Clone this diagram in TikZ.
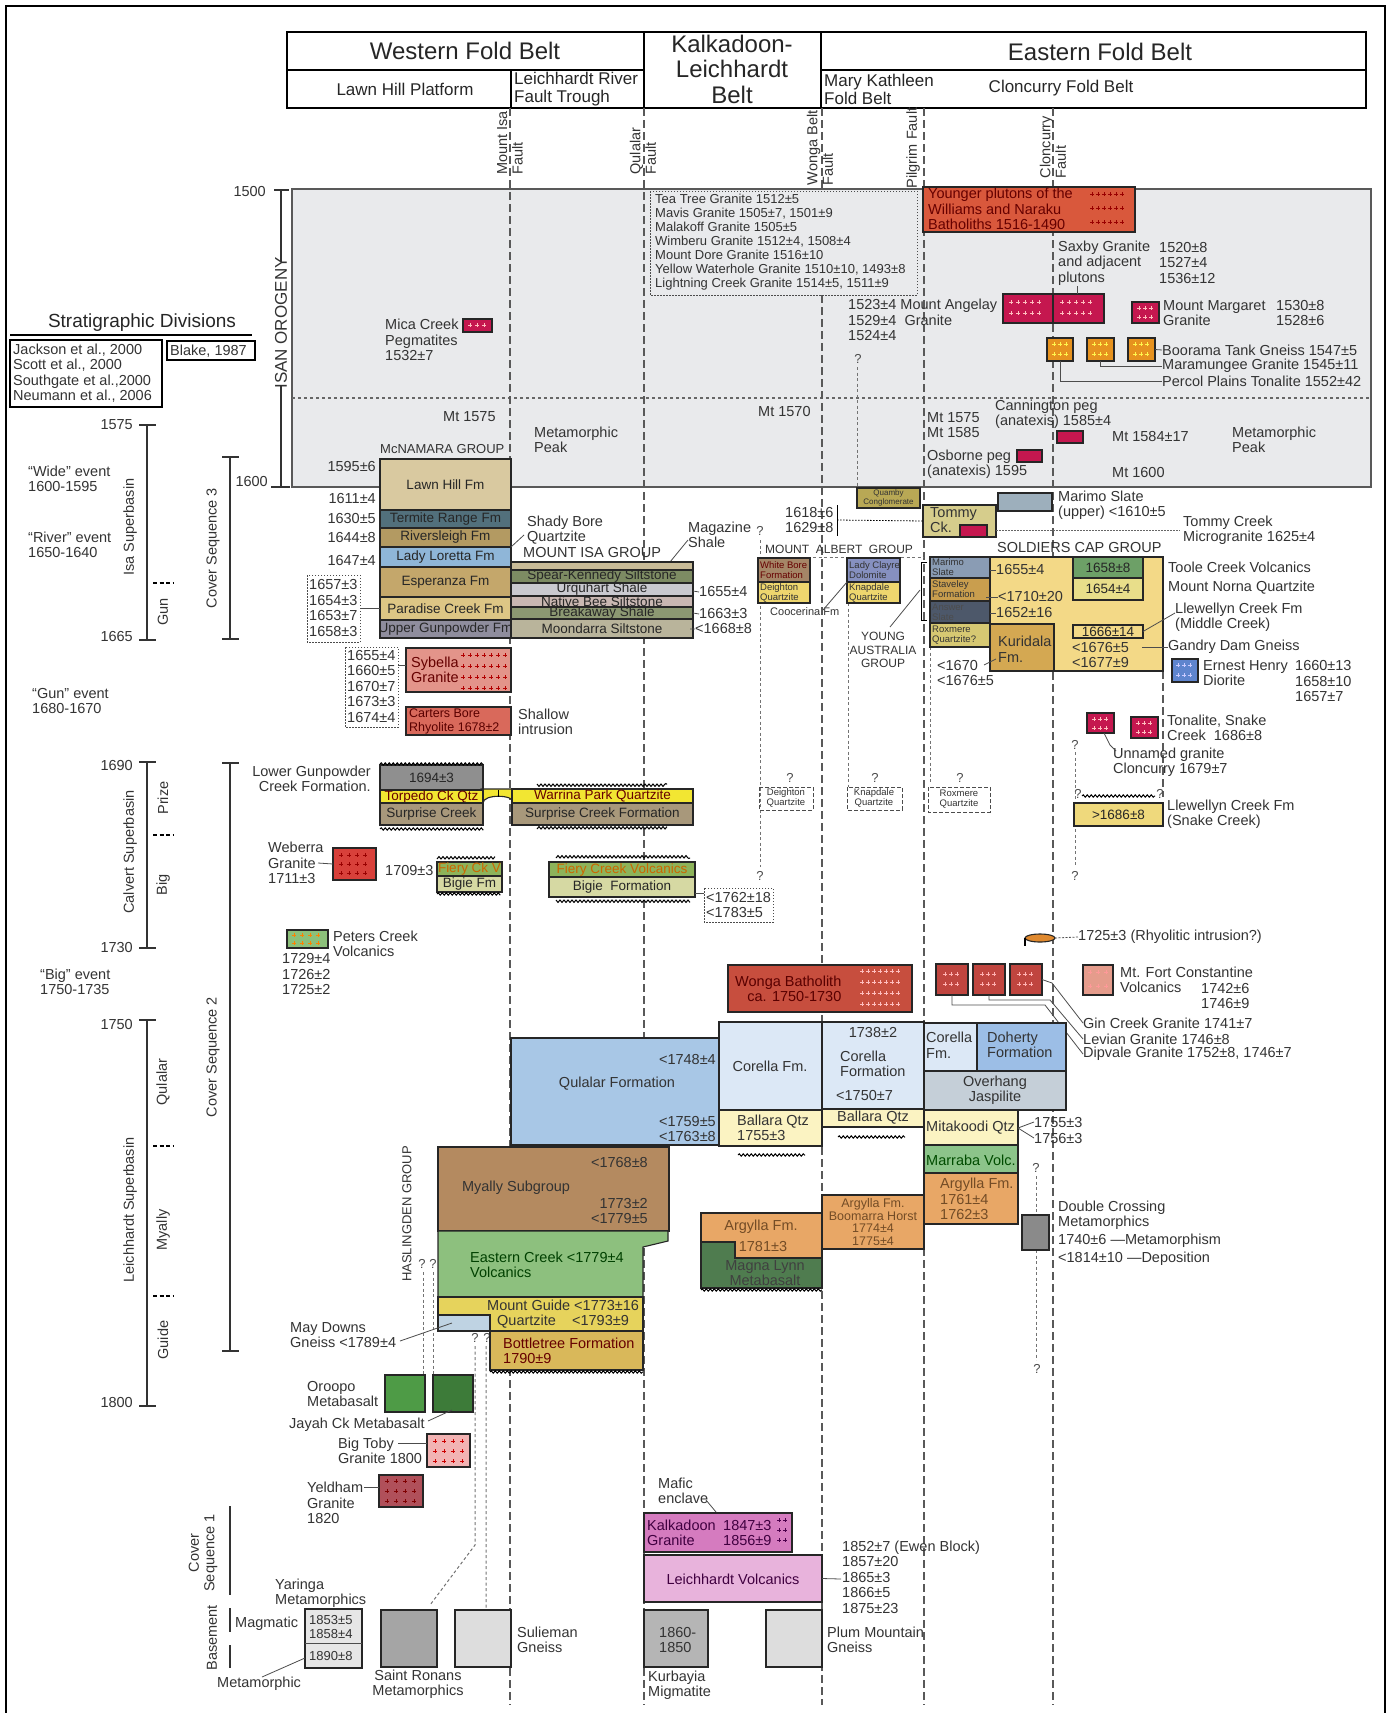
\documentclass[tikz,border=0pt]{standalone}
\usepackage{fontspec}
\setmainfont{Liberation Sans}
\usetikzlibrary{decorations.pathmorphing}

% colours of the units
\definecolor{isanbg}{HTML}{E9EAEC}
\definecolor{lawnhill}{HTML}{D9C9A0}
\definecolor{termite}{HTML}{52707C}
\definecolor{riversl}{HTML}{B39A62}
\definecolor{ladyl}{HTML}{8FB6D8}
\definecolor{esper}{HTML}{C4A76B}
\definecolor{paradise}{HTML}{DDC685}
\definecolor{uppergun}{HTML}{8F8D9D}
\definecolor{migtop}{HTML}{C9BC98}
\definecolor{spear}{HTML}{7D8B63}
\definecolor{urq}{HTML}{C9C9CF}
\definecolor{nbee}{HTML}{C9B7B2}
\definecolor{brkw}{HTML}{8C9872}
\definecolor{moond}{HTML}{B9B49B}
\definecolor{sybella}{HTML}{E3948A}
\definecolor{carters}{HTML}{D9695B}
\definecolor{crimson}{HTML}{C5174F}
\definecolor{younger}{HTML}{D9583C}
\definecolor{orangeb}{HTML}{E6921F}
\definecolor{quamby}{HTML}{B8A855}
\definecolor{whitebore}{HTML}{A58667}
\definecolor{deighton}{HTML}{EED66E}
\definecolor{ladyclayre}{HTML}{8690C0}
\definecolor{tommy}{HTML}{D6CD8C}
\definecolor{marup}{HTML}{9DAFBC}
\definecolor{soldier}{HTML}{F3D987}
\definecolor{kuridala}{HTML}{D4A852}
\definecolor{tcvgreen}{HTML}{6DA067}
\definecolor{mnqyel}{HTML}{E8DE8A}
\definecolor{marimo}{HTML}{8A9CB4}
\definecolor{stave}{HTML}{C99E4E}
\definecolor{answer}{HTML}{4D586A}
\definecolor{roxm}{HTML}{D6C872}
\definecolor{ehdblue}{HTML}{5F85CE}
\definecolor{llyel}{HTML}{EFD97C}
\definecolor{grayb}{HTML}{8F8F8F}
\definecolor{torpedo}{HTML}{F2E632}
\definecolor{surprise}{HTML}{A8987B}
\definecolor{weberra}{HTML}{D8403A}
\definecolor{fiery}{HTML}{8DB35A}
\definecolor{bigie}{HTML}{D6D9A3}
\definecolor{peters}{HTML}{8CC07A}
\definecolor{rhyo}{HTML}{E0892E}
\definecolor{wonga}{HTML}{C74E3E}
\definecolor{ginred}{HTML}{C0453F}
\definecolor{mfc}{HTML}{E59C8C}
\definecolor{qulalar}{HTML}{A8C7E6}
\definecolor{corella}{HTML}{DCE8F6}
\definecolor{ballara}{HTML}{FBF3C2}
\definecolor{doherty}{HTML}{9CBEE6}
\definecolor{overhang}{HTML}{C5CFD8}
\definecolor{marraba}{HTML}{8CC48A}
\definecolor{argylla}{HTML}{E8A766}
\definecolor{magna}{HTML}{4F7C4F}
\definecolor{dcgray}{HTML}{8A8A8A}
\definecolor{myally}{HTML}{B48A60}
\definecolor{eastcr}{HTML}{8DC07E}
\definecolor{mtguide}{HTML}{E6D35C}
\definecolor{maydowns}{HTML}{BFD3E3}
\definecolor{bottle}{HTML}{D9B85A}
\definecolor{oroopo}{HTML}{4E9B46}
\definecolor{jayah}{HTML}{3D7B39}
\definecolor{bigtoby}{HTML}{F2B3B3}
\definecolor{yeldham}{HTML}{B0505A}
\definecolor{yaringa}{HTML}{E6E6E6}
\definecolor{sronan}{HTML}{A5A5A5}
\definecolor{sulgray}{HTML}{DDDDDD}
\definecolor{kalkadoon}{HTML}{D57BBF}
\definecolor{leichv}{HTML}{E8B3DC}
\definecolor{kurbg}{HTML}{B5B5B5}

% font sizes
\newcommand{\hdfont}{\fontsize{24}{25.5}\selectfont}
\newcommand{\subfont}{\fontsize{17}{18}\selectfont}
\newcommand{\lblfont}{\fontsize{14.5}{15.5}\selectfont}
\newcommand{\boxfont}{\fontsize{13.5}{14.5}\selectfont}
\newcommand{\smfont}{\fontsize{13}{14}\selectfont}
\newcommand{\tnfont}{\fontsize{9.5}{10}\selectfont}

\tikzset{
  unit/.style={draw=black!85, line width=1.1pt, inner sep=0pt, outer sep=0pt},
  boxt/.style={font=\boxfont, inner sep=0pt, align=center, text=black!85},
  lbl/.style={font=\lblfont, inner sep=0pt, anchor=west, align=left, text=black!80},
  tn/.style={font=\tnfont, inner sep=0pt, anchor=west, align=left, text=black!80},
  hd/.style={font=\hdfont, inner sep=0pt, text=black!85},
  sub/.style={font=\subfont, inner sep=0pt, text=black!85},
  rot/.style={font=\lblfont, inner sep=0pt, rotate=90, align=center, text=black!80},
  fault/.style={dash pattern=on 8pt off 4pt, line width=1.1pt, draw=black!65},
  qline/.style={dash pattern=on 3pt off 2.5pt, line width=1pt, draw=black!55},
  dotbox/.style={dash pattern=on 1.5pt off 1.5pt, line width=0.8pt, draw=black!70},
  dashbox/.style={dash pattern=on 4pt off 2pt, line width=1pt, draw=black!70},
  leader/.style={line width=0.8pt, draw=black!70},
  wavy/.style={decorate, decoration={snake, amplitude=1.2pt, segment length=4pt}, line width=1pt},
  qm/.style={font=\smfont, inner sep=0pt, text=black!70},
  axis/.style={line width=2.2pt, draw=black!80},
}

% [text opts]{name}{x1}{y1}{x2}{y2}{fill}{text}
\newcommand{\unitbox}[8][]{%
  \node[unit, fill=#7, minimum width={(#5-#3)*1pt}, minimum height={(#6-#4)*1pt}]
    (#2) at ({(#3+#5)/2},{(#4+#6)/2}) {};
  \node[boxt, #1] (#2-x) at (#2.center) {#8};}
% x0, y0, columns, rows, dx, dy, colour
\newcommand{\plusgrid}[7]{%
  \foreach \ci in {1,...,#3}{\foreach \cj in {1,...,#4}{%
    \draw[#7, line width=0.7pt] ({#1+(\ci-1)*#5-1.8},{#2+(\cj-1)*#6}) -- ++(3.6,0)
      ({#1+(\ci-1)*#5},{#2+(\cj-1)*#6-1.8}) -- ++(0,3.6);}}}

\begin{document}
\begin{tikzpicture}[x=1pt, y=-1pt]
\useasboundingbox (0,0) rectangle (1391,1713);
\draw[line width=2pt] (6,1713) -- (6,6) -- (1385,6) -- (1385,1713);

% Header
\draw[line width=1.4pt] (287,32) rectangle (1366,108);
\draw[line width=1.2pt] (287,70) -- (644,70) (821,70) -- (1366,70)
  (644,32) -- (644,108) (821,32) -- (821,108) (511,70) -- (511,108);
\node[hd] (wfb) at (465,51) {Western Fold Belt};
\node[hd, align=center] (klb) at (732,69) {Kalkadoon-\\Leichhardt\\Belt};
\node[hd] (efb) at (1100,52) {Eastern Fold Belt};
\node[sub] (lhp) at (405,89) {Lawn Hill Platform};
\node[sub, anchor=west, align=left] (lrft) at (514,89) {Leichhardt River\\Fault Trough};
\node[sub, anchor=west, align=left] (mkfb) at (824,89) {Mary Kathleen\\Fold Belt};
\node[sub] (cfb) at (1061,88) {Cloncurry Fold Belt};

% Stratigraphic divisions
\node[font=\fontsize{19}{20}\selectfont, inner sep=0pt, text=black!85] (strat) at (142,323) {Stratigraphic Divisions};
\draw[line width=1.5pt] (10,335) -- (252,335);
\draw[line width=1.3pt] (10,340) rectangle (162,407);
\node[lbl] (refs) at (13,373) {Jackson et al., 2000\\Scott et al., 2000\\Southgate et al.,2000\\Neumann et al., 2006};
\draw[line width=1.3pt] (167,341) rectangle (255,360);
\node[lbl] (blake) at (170,351) {Blake, 1987};

% Time axes
\draw[axis] (147,425) -- (147,640) (139,425) -- (156,425) (139,640) -- (156,640);
\draw[axis] (147,762) -- (147,948) (139,762) -- (156,762) (139,948) -- (156,948);
\draw[axis] (147,1020) -- (147,1406) (139,1020) -- (156,1020) (139,1406) -- (156,1406);
\foreach \dy in {583,835,1146,1296}
  \draw[line width=1.5pt, dash pattern=on 4pt off 2.5pt] (153,\dy) -- (173,\dy);
\draw[axis] (230,457) -- (230,639) (222,457) -- (239,457) (222,639) -- (239,639);
\draw[axis] (230,763) -- (230,1351) (222,763) -- (239,763) (222,1351) -- (239,1351);
\draw[axis] (230,1506) -- (230,1595);
\draw[axis] (230,1608) -- (230,1632) (230,1645) -- (230,1668);
\draw[axis] (281,190) -- (281,262) (281,385) -- (281,487) (274,190) -- (289,190) (271,487) -- (290,487);
\node[lbl, anchor=east] (y1500) at (266,192) {1500};
\node[lbl, anchor=east] (y1600) at (268,482) {1600};
\node[lbl, anchor=east] (y1575) at (133,425) {1575};
\node[lbl, anchor=east] (y1665) at (133,637) {1665};
\node[lbl, anchor=east] (y1690) at (133,765) {1690};
\node[lbl, anchor=east] (y1730) at (133,947) {1730};
\node[lbl, anchor=east] (y1750) at (133,1024) {1750};
\node[lbl, anchor=east] (y1800) at (133,1402) {1800};
\node[rot, font=\subfont] (axisan) at (281,323) {ISAN OROGENY};
\node[rot] (axisa) at (130,527) {Isa Superbasin};
\node[rot] (axgun) at (163,612) {Gun};
\node[rot] (axcs3) at (213,548) {Cover Sequence 3};
\node[rot] (axcal) at (130,852) {Calvert Superbasin};
\node[rot] (axprize) at (163,798) {Prize};
\node[rot] (axbig) at (163,885) {Big};
\node[rot] (axcs2) at (213,1057) {Cover Sequence 2};
\node[rot] (axlei) at (130,1210) {Leichhardt Superbasin};
\node[rot] (axqul) at (163,1082) {Qulalar};
\node[rot] (axmya) at (163,1230) {Myally};
\node[rot] (axgui) at (163,1340) {Guide};
\node[rot] (axcs1) at (203,1553) {Cover\\Sequence 1};
\node[rot] (axbase) at (212,1638) {Basement};
\node[lbl] (evwide) at (28,479) {``Wide'' event\\1600-1595};
\node[lbl] (evriver) at (28,545) {``River'' event\\1650-1640};
\node[lbl] (evgun) at (32,701) {``Gun'' event\\1680-1670};
\node[lbl] (evbig) at (40,982) {``Big'' event\\1750-1735};

% Isan orogeny field
\draw[fill=isanbg, draw=black!65, line width=1.2pt] (292,189) rectangle (1371,487);
\draw[dash pattern=on 3pt off 3pt, line width=1.2pt, black!60] (292,398) -- (1371,398);

% Faults
\foreach \fx in {510,644,924,1053} \draw[fault] (\fx,108) -- (\fx,1705);
\draw[fault] (822,108) -- (822,191) (822,295) -- (822,1705);
\draw[fault] (1163,671) -- (1163,797);
\node[rot, align=left] (fmi) at (510,143) {Mount Isa\\Fault};
\node[rot, align=left] (fqu) at (643,151) {Qulalar\\Fault};
\node[rot, align=left] (fwo) at (820,148) {Wonga Belt\\Fault};
\node[rot] (fpi) at (913,148) {Pilgrim Fault};
\node[rot, align=left] (fcl) at (1053,147) {Cloncurry\\Fault};

% Uncertain extents
\node[qm] (q1) at (858,359) {?};
\draw[qline] (857,367) -- (857,488);
\node[qm] (q2) at (760,531) {?};
\draw[qline] (760,540) -- (760,867);
\node[qm] (q3) at (760,876) {?};
\draw[qline] (848,603) -- (848,787) (930,647) -- (930,783);
\node[qm] (q4) at (1075,745) {?};
\draw[qline] (1075,752) -- (1075,867);
\node[qm] (q5) at (1075,876) {?};
\node[qm] (q6) at (1036,1168) {?};
\draw[qline] (1036,1176) -- (1036,1215) (1036,1250) -- (1036,1360);
\node[qm] (q7) at (1037,1369) {?};
\node[qm] (q8) at (422,1264) {?};
\node[qm] (q9) at (433,1264) {?};
\draw[qline] (423,1272) -- (423,1375) (433,1272) -- (433,1375);
\node[qm] (q10) at (475,1338) {?};
\node[qm] (q11) at (487,1338) {?};
\draw[qline] (475,1346) -- (475,1545) -- (430,1605) (486,1346) -- (486,1610);

% Isan intrusions
\node[lbl] (mica) at (385,340) {Mica Creek\\Pegmatites\\1532±7};
\unitbox{micab}{463}{319}{492}{332}{crimson}{}
\plusgrid{470}{325}{3}{1}{7}{7}{pink}
\draw[dotbox] (650,191) rectangle (917,295);
\node[lbl, font=\smfont] (granlist) at (655,242) {Tea Tree Granite 1512±5\\Mavis Granite 1505±7, 1501±9\\Malakoff Granite 1505±5\\Wimberu Granite 1512±4, 1508±4\\Mount Dore Granite 1516±10\\Yellow Waterhole Granite 1510±10, 1493±8\\Lightning Creek Granite 1514±5, 1511±9};
\unitbox{young}{923}{187}{1135}{232}{younger}{}
\node[lbl, text=red!40!black] (youngt) at (928,209) {Younger plutons of the\\Williams and Naraku\\Batholiths 1516-1490};
\plusgrid{1092}{194}{6}{3}{6}{14}{red!60!black}
\node[lbl] (saxby) at (1058,263) {Saxby Granite\\and adjacent\\plutons};
\node[lbl] (saxbyage) at (1159,263) {1520±8\\1527±4\\1536±12};
\node[lbl] (angel) at (848,320) {1523±4 Mount Angelay\\1529±4\ \ Granite\\1524±4};
\unitbox{angb1}{1003}{294}{1053}{323}{crimson}{}
\unitbox{angb2}{1053}{294}{1104}{323}{crimson}{}
\plusgrid{1011}{302}{5}{2}{7}{11}{pink}
\plusgrid{1062}{302}{5}{2}{7}{11}{pink}
\draw[leader] (1077,286) -- (1077,0 |- angb2.north);
\unitbox{margb}{1132}{302}{1159}{323}{crimson}{}
\plusgrid{1139}{308}{3}{2}{6}{9}{pink}
\node[lbl] (marg) at (1163,313) {Mount Margaret\\Granite};
\node[lbl] (margage) at (1276,313) {1530±8\\1528±6};
\unitbox{bt1}{1047}{338}{1073}{361}{orangeb}{}
\unitbox{bt2}{1087}{338}{1114}{361}{orangeb}{}
\unitbox{bt3}{1128}{338}{1155}{361}{orangeb}{}
\plusgrid{1054}{344}{3}{2}{6}{10}{yellow!70!white}
\plusgrid{1094}{344}{3}{2}{6}{10}{yellow!70!white}
\plusgrid{1135}{344}{3}{2}{6}{10}{yellow!70!white}
\node[lbl] (boor) at (1162,350) {Boorama Tank Gneiss 1547±5};
\node[lbl] (mara) at (1162,366) {Maramungee Granite 1545±11};
\node[lbl] (perc) at (1162,381) {Percol Plains Tonalite 1552±42};
\draw[leader] (bt3.east) -- (boor.west);
\draw[leader] (bt2.south) |- (mara.west);
\draw[leader] (bt1.south) |- (perc.west);

% Metamorphic peak
\node[lbl] (mt1575w) at (443,417) {Mt 1575};
\node[lbl] (metpkw) at (534,440) {Metamorphic\\Peak};
\node[lbl] (mt1570) at (758,412) {Mt 1570};
\node[lbl, font=\smfont] (mcnam) at (380,449) {McNAMARA GROUP};
\node[lbl] (mteast) at (927,425) {Mt 1575\\Mt 1585};
\node[lbl] (osb) at (927,464) {Osborne peg\\(anatexis) 1595};
\unitbox{osbb}{1017}{450}{1042}{462}{crimson}{}
\node[lbl] (cann) at (995,414) {Cannington peg\\(anatexis) 1585±4};
\unitbox{cannb}{1057}{431}{1083}{443}{crimson}{}
\node[lbl] (mt1584) at (1112,437) {Mt 1584±17};
\node[lbl] (metpke) at (1232,440) {Metamorphic\\Peak};
\node[lbl] (mt1600) at (1112,473) {Mt 1600};

% Lawn Hill Platform column
\unitbox{lawn}{380}{459}{511}{510}{lawnhill}{Lawn Hill Fm}
\unitbox{term}{380}{510}{511}{528}{termite}{Termite Range Fm}
\unitbox{rivs}{380}{528}{511}{547}{riversl}{Riversleigh Fm}
\unitbox{lady}{380}{547}{511}{567}{ladyl}{Lady Loretta Fm}
\unitbox{espe}{380}{567}{511}{597}{esper}{Esperanza Fm}
\unitbox{para}{380}{597}{511}{620}{paradise}{Paradise Creek Fm}
\unitbox{upgp}{380}{620}{511}{638}{uppergun}{Upper Gunpowder Fm}
\node[lbl, anchor=east] (a1595) at (376,467) {1595±6};
\node[lbl, anchor=east] (a1611) at (376,499) {1611±4};
\node[lbl, anchor=east] (a1630) at (376,519) {1630±5};
\node[lbl, anchor=east] (a1644) at (376,538) {1644±8};
\node[lbl, anchor=east] (a1647) at (376,561) {1647±4};
\draw[dotbox] (307,575) rectangle (360,642);
\node[lbl] (pcages) at (309,608) {1657±3\\1654±3\\1653±7\\1658±3};
\draw[leader] (360,608) -- (para.west |- 0,608);
\node[lbl] (shady) at (527,530) {Shady Bore\\Quartzite};
\draw[leader] (524,535) -- (lady.north east);
\node[lbl] (migrp) at (523,553) {MOUNT ISA GROUP};
\node[lbl] (magsh) at (688,535) {Magazine\\Shale};
\draw[leader] (688,540) -- (670,562);

% Mount Isa Group
\unitbox{migt}{511}{562}{693}{570}{migtop}{}
\unitbox{spear}{511}{570}{693}{583}{spear}{Spear-Kennedy Siltstone}
\unitbox{urq}{511}{583}{693}{596}{urq}{Urquhart Shale}
\unitbox{nbee}{511}{596}{693}{607}{nbee}{Native Bee Siltstone}
\unitbox{brk}{511}{607}{693}{619}{brkw}{Breakaway Shale}
\unitbox{moon}{511}{619}{693}{638}{moond}{Moondarra Siltstone}
\node[lbl] (mig1655) at (699,592) {1655±4};
\node[lbl] (mig1663) at (699,614) {1663±3};
\node[lbl] (mig1668) at (695,629) {<1668±8};
\draw[leader] (693,591) -- (mig1655.west) (693,613) -- (mig1663.west) (690,629) -- (mig1668.west);

% Sybella and Carters Bore
\unitbox{syb}{406}{648}{511}{692}{sybella}{}
\node[lbl, text=red!40!black] (sybt) at (411,670) {Sybella\\Granite};
\plusgrid{463}{655}{7}{4}{7}{11}{red!70!black}
\draw[dotbox] (345,647) rectangle (398,727);
\node[lbl] (sybages) at (347,686) {1655±4\\1660±5\\1670±7\\1673±3\\1674±4};
\draw[leader] (398,665) -- (syb.west |- 0,665);
\unitbox{cart}{406}{707}{511}{735}{carters}{}
\node[lbl, font=\fontsize{12.5}{14}\selectfont, text=red!35!black] (cartt) at (409,721) {Carters Bore\\Rhyolite 1678±2};
\node[lbl] (shallow) at (518,722) {Shallow\\intrusion};

% Mary Kathleen belt
\node[lbl] (tc1618) at (785,520) {1618±6\\1629±8};
\draw[line width=1pt] (837,505) -- (837,536);
\unitbox{quamby}{857}{488}{920}{508}{quamby}{}
\node[tn, anchor=center, align=center, font=\fontsize{8}{8.5}\selectfont] (quambyt) at (quamby.center) {Quamby\\Conglomerate};
\node[lbl, font=\fontsize{12}{13}\selectfont] (magrp) at (765,549) {MOUNT\ \ ALBERT\ \ GROUP};
\draw[qline] (758,557) -- (924,557);
\unitbox{wbore}{758}{558}{810}{582}{whitebore}{}
\node[tn, text=red!40!black] (wboret) at (760,570) {White Bore\\Formation};
\unitbox{deig}{758}{582}{810}{603}{deighton}{}
\node[tn] (deigt) at (760,593) {Deighton\\Quartzite};
\unitbox{lclay}{847}{558}{900}{582}{ladyclayre}{}
\node[tn] (lclayt) at (849,570) {Lady Clayre\\Dolomite};
\unitbox{knap}{847}{582}{900}{603}{deighton}{}
\node[tn] (knapt) at (849,593) {Knapdale\\Quartzite};
\node[lbl, font=\fontsize{11}{12}\selectfont] (cooc) at (770,612) {Coocerina Fm};
\draw[leader] (823,610) -- (knap.north west);
\node[lbl, anchor=center, align=center, font=\fontsize{12}{13.5}\selectfont] (yag) at (883,650) {YOUNG\\AUSTRALIA\\GROUP};
\draw[leader] (890,627) -- (920,590);
\draw[line width=0.8pt] (927,562) -- (921,562) -- (921,620) -- (927,620);
\draw[dashbox] (759,787) rectangle (813,810);
\node[tn, anchor=center, align=center] (deigq) at (786,798) {Deighton\\Quartzite};
\node[qm] (q12) at (790,778) {?};
\draw[dashbox] (847,787) rectangle (902,810);
\node[tn, anchor=center, align=center] (knapq) at (874,798) {Knapdale\\Quartzite};
\node[qm] (q13) at (875,778) {?};
\draw[dashbox] (928,787) rectangle (990,812);
\node[tn, anchor=center, align=center] (roxq) at (959,799) {Roxmere\\Quartzite};
\node[qm] (q14) at (960,778) {?};

% Soldiers Cap Group
\unitbox{tommy}{923}{505}{996}{537}{tommy}{}
\node[lbl] (tommyt) at (930,520) {Tommy\\Ck.};
\unitbox{tommyg}{960}{525}{987}{537}{crimson}{}
\draw[line width=0.8pt, dash pattern=on 1.5pt off 1.5pt] (837,520) -- (tommy.west);
\unitbox{marup}{998}{493}{1052}{511}{marup}{}
\node[lbl] (marupt) at (1058,505) {Marimo Slate\\(upper) <1610±5};
\draw[line width=0.8pt, dash pattern=on 1.5pt off 1.5pt, black!60] (996,530) -- (1180,530);
\node[lbl] (tcmg) at (1183,530) {Tommy Creek\\Microgranite 1625±4};
\node[lbl] (scg) at (997,548) {SOLDIERS CAP GROUP};
\unitbox{scbig}{990}{557}{1163}{671}{soldier}{}
\unitbox{marimo}{930}{557}{990}{578}{marimo}{}
\node[tn] (marimot) at (932,567) {Marimo\\Slate};
\unitbox{stave}{930}{578}{990}{601}{stave}{}
\node[tn] (stavet) at (932,589) {Staveley\\Formation};
\unitbox{answer}{930}{601}{990}{623}{answer}{}
\node[tn, text=black!70] (answert) at (932,612) {Answer\\Slate};
\unitbox{roxm}{930}{623}{990}{647}{roxm}{}
\node[tn] (roxmt) at (932,635) {Roxmere\\Quartzite?};
\node[lbl] (sc1655) at (996,570) {1655±4};
\node[lbl] (sc1710) at (998,597) {<1710±20};
\node[lbl] (sc1652) at (996,613) {1652±16};
\draw[leader] (990,570) -- (sc1655.west) (986,597) -- (sc1710.west) (990,613) -- (sc1652.west);
\unitbox{kuri}{990}{624}{1054}{671}{kuridala}{}
\node[lbl] (kurit) at (998,649) {Kuridala\\Fm.};
\node[lbl] (sc1670) at (937,673) {<1670\\<1676±5};
\draw[leader] (984,665) -- (996,659);
\unitbox{tcv}{1073}{557}{1143}{578}{tcvgreen}{1658±8}
\unitbox{mnq}{1073}{578}{1143}{600}{mnqyel}{1654±4}
\unitbox{llm}{1073}{625}{1143}{638}{soldier}{1666±14}
\node[lbl] (sc1676) at (1072,655) {<1676±5\\<1677±9};
\node[lbl] (tcvt) at (1168,567) {Toole Creek Volcanics};
\node[lbl] (mnqt) at (1168,588) {Mount Norna Quartzite};
\node[lbl] (llmt) at (1175,617) {Llewellyn Creek Fm\\(Middle Creek)};
\draw[leader] (llm.east) -- (1175,613);
\node[lbl] (gdg) at (1168,647) {Gandry Dam Gneiss};
\draw[leader] (1142,647) -- (gdg.west);
\unitbox{ehd}{1172}{659}{1198}{682}{ehdblue}{}
\plusgrid{1178}{665}{3}{2}{6}{10}{blue!20!white}
\node[lbl] (ehdt) at (1203,673) {Ernest Henry\\Diorite};
\node[lbl] (ehdage) at (1295,681) {1660±13\\1658±10\\1657±7};
\unitbox{ton1}{1087}{713}{1114}{733}{crimson}{}
\unitbox{ton2}{1131}{717}{1158}{738}{crimson}{}
\plusgrid{1094}{719}{3}{2}{6}{9}{pink}
\plusgrid{1138}{723}{3}{2}{6}{9}{pink}
\node[lbl] (tont) at (1167,728) {Tonalite, Snake\\Creek\ \ 1686±8};
\node[lbl] (unng) at (1113,762) {Unnamed granite\\Cloncurry 1679±7};
\draw[leader] (1104,733) -- (1110,745) -- (1116,751);
\draw[wavy] (1082,796) -- (1155,796);
\node[qm] (q15) at (1078,794) {?};
\node[qm] (q16) at (1160,794) {?};
\unitbox{llsc}{1074}{803}{1163}{826}{llyel}{>1686±8}
\node[lbl] (llsct) at (1167,814) {Llewellyn Creek Fm\\(Snake Creek)};

% Prize and Big sequences
\node[lbl, anchor=east, align=right] (lgcf) at (371,779) {Lower Gunpowder\\Creek Formation.};
\unitbox{lg1694}{380}{765}{483}{790}{grayb}{1694±3}
\draw[wavy] (380,764) -- (483,764);
\draw[unit, fill=torpedo] (481,789) -- (514,789) -- (514,803)
  .. controls (514,794) and (483,794) .. (483,803) -- cycle;
\unitbox[text=red!40!black]{torp}{380}{790}{483}{803}{torpedo}{Torpedo Ck Qtz}
\unitbox[text=red!40!black]{warr}{512}{789}{693}{803}{torpedo}{Warrina Park Quartzite}
\draw[line width=0.8pt] (498,790) -- (498,797);
\unitbox{surl}{380}{803}{483}{825}{surprise}{Surprise Creek}
\unitbox{surr}{512}{803}{693}{825}{surprise}{Surprise Creek Formation}
\draw[wavy] (380,829) -- (483,829) (537,829) -- (667,829) (537,784) -- (667,784);
\node[lbl] (webt) at (268,863) {Weberra\\Granite\\1711±3};
\unitbox{web}{333}{848}{376}{880}{weberra}{}
\plusgrid{341}{855}{4}{3}{8}{9}{red!60!black}
\draw[leader] (318,863) -- (web.west);
\node[lbl] (f1709) at (385,870) {1709±3};
\unitbox[text=orange!80!black]{fcl}{437}{862}{502}{876}{fiery}{Fiery Ck V}
\unitbox{bgl}{437}{876}{502}{892}{bigie}{Bigie Fm}
\unitbox[text=orange!80!black]{fcr}{549}{862}{695}{877}{fiery}{Fiery Creek Volcanics}
\unitbox{bgr}{549}{877}{695}{897}{bigie}{Bigie\ \ Formation}
\draw[wavy] (437,894) -- (500,894) (437,859) -- (495,859) (556,900) -- (690,900) (556,858) -- (690,858);
\draw[dotbox] (704,888) rectangle (773,922);
\node[lbl] (fc1762) at (706,905) {<1762±18\\<1783±5};
\draw[leader] (695,893) -- (704,893);
\unitbox{pcv}{287}{930}{328}{948}{peters}{}
\plusgrid{294}{935}{4}{2}{8}{8}{orange}
\node[lbl] (pcvt) at (333,944) {Peters Creek\\Volcanics};
\node[lbl] (pcvage) at (282,974) {1729±4\\1726±2\\1725±2};
\draw[unit, fill=rhyo] (1040,938) ellipse (15 and 4);
\draw[line width=1.1pt] (1025,938) -- (1025,946);
\node[lbl] (rhy) at (1078,937) {1725±3 (Rhyolitic intrusion?)};
\draw[leader, dash pattern=on 2pt off 1.5pt] (1055,938) -- (rhy.west);

% Wonga and Corella
\unitbox{wonga}{728}{965}{912}{1012}{wonga}{}
\node[lbl, text=red!35!black] (wongat) at (735,989) {Wonga Batholith\\\ \ \ ca. 1750-1730};
\plusgrid{862}{971}{7}{4}{6}{11}{red!25!white}
\unitbox{gcg1}{936}{964}{968}{995}{ginred}{}
\unitbox{gcg2}{973}{964}{1005}{995}{ginred}{}
\unitbox{gcg3}{1010}{964}{1042}{995}{ginred}{}
\plusgrid{945}{974}{3}{2}{6}{10}{red!30!white}
\plusgrid{982}{974}{3}{2}{6}{10}{red!30!white}
\plusgrid{1019}{974}{3}{2}{6}{10}{red!30!white}
\node[lbl] (gint) at (1083,1023) {Gin Creek Granite 1741±7};
\node[lbl] (levt) at (1083,1039) {Levian Granite 1746±8};
\node[lbl] (dipt) at (1083,1054) {Dipvale Granite 1752±8, 1746±7};
\draw[leader] (gcg3.east) -- (1052,983) -- (gint.west);
\draw[leader] (gcg2.south) |- (1050,1000) -- (levt.west);
\draw[leader] (gcg1.south) |- (1045,1005) -- (dipt.west);
\unitbox{mfcb}{1083}{965}{1113}{995}{mfc}{}
\plusgrid{1090}{972}{3}{2}{8}{14}{red!40!white}
\node[lbl] (mfct) at (1120,980) {Mt. Fort Constantine\\Volcanics};
\node[lbl] (mfcage) at (1201,996) {1742±6\\1746±9};
\unitbox{qul}{511}{1038}{719}{1145}{qulalar}{}
\node[lbl, anchor=center] (qult) at (617,1084) {Qulalar Formation};
\node[lbl, anchor=east] (q1748) at (716,1059) {<1748±4};
\node[lbl, anchor=east, align=right] (q1759) at (716,1129) {<1759±5\\<1763±8};
\unitbox{corm}{719}{1022}{822}{1110}{corella}{}
\node[lbl, anchor=center] (cormt) at (770,1066) {Corella Fm.};
\unitbox{balm}{719}{1110}{822}{1146}{ballara}{}
\node[lbl] (balmt) at (737,1128) {Ballara Qtz\\1755±3};
\draw[wavy] (738,1155) -- (805,1155);
\unitbox{corr}{822}{1022}{924}{1109}{corella}{}
\node[lbl, anchor=center] (cor1738) at (873,1032) {1738±2};
\node[lbl] (corrt) at (840,1064) {Corella\\Formation};
\node[lbl] (cor1750) at (836,1095) {<1750±7};
\unitbox{balr}{822}{1109}{924}{1127}{ballara}{}
\node[lbl, anchor=center] (balrt) at (873,1118) {Ballara Qtz};
\draw[wavy] (838,1137) -- (905,1137);
\unitbox{corf}{924}{1023}{977}{1071}{corella}{}
\node[lbl] (corft) at (926,1045) {Corella\\Fm.};
\unitbox{doh}{977}{1023}{1066}{1071}{doherty}{}
\node[lbl] (doht) at (987,1045) {Doherty\\Formation};
\unitbox{ovj}{924}{1071}{1066}{1110}{overhang}{}
\node[lbl, anchor=center, align=center] (ovjt) at (995,1090) {Overhang\\Jaspilite};
\unitbox{mitq}{924}{1110}{1018}{1145}{ballara}{}
\node[lbl] (mitqt) at (926,1128) {Mitakoodi Qtz};
\node[lbl] (m1755) at (1034,1122) {1755±3};
\node[lbl] (m1756) at (1034,1138) {1756±3};
\draw[leader] (1018,1128) -- (m1755.west) (1018,1128) -- (m1756.west);
\unitbox{marr}{924}{1145}{1018}{1173}{marraba}{}
\node[lbl, text=green!30!black] (marrt) at (926,1160) {Marraba Volc.};
\unitbox{argr}{924}{1173}{1018}{1224}{argylla}{}
\node[lbl, text=brown!60!black] (argrt) at (940,1199) {Argylla Fm.\\1761±4\\1762±3};
\unitbox[font=\fontsize{12.5}{12.8}\selectfont, text=brown!60!black]{argb}{822}{1195}{924}{1249}{argylla}{Argylla Fm.\\Boomarra Horst\\1774±4\\1775±4}
\unitbox{argm}{701}{1213}{822}{1258}{argylla}{}
\node[lbl, anchor=center, text=brown!60!black] (argmt) at (761,1227) {Argylla Fm.};
\node[lbl, anchor=center, text=brown!60!black] (argm1781) at (763,1246) {1781±3};
\draw[unit, fill=magna] (701,1242) -- (735,1242) -- (735,1258) -- (822,1258) -- (822,1288) -- (701,1288) -- cycle;
\node[lbl, anchor=center, align=center, text=black!75] (magt) at (765,1273) {Magna Lynn\\Metabasalt};
\draw[wavy] (701,1290) -- (822,1290);
\unitbox{dcm}{1022}{1215}{1049}{1250}{dcgray}{}
\node[lbl] (dcmt) at (1058,1215) {Double Crossing\\Metamorphics};
\node[lbl] (dcm1740) at (1058,1241) {1740±6 —Metamorphism};
\node[lbl] (dcm1814) at (1058,1259) {<1814±10 —Deposition};

% Haslingden Group
\unitbox{mya}{438}{1147}{669}{1231}{myally}{}
\node[lbl, anchor=center] (myat) at (516,1188) {Myally Subgroup};
\node[lbl, anchor=east] (mya1768) at (648,1162) {<1768±8};
\node[lbl, anchor=east, align=right] (mya1773) at (648,1211) {1773±2\\<1779±5};
\draw[unit, fill=eastcr] (438,1231) -- (668,1231) -- (668,1241) -- (643,1247) -- (643,1297) -- (438,1297) -- cycle;
\node[lbl, text=green!25!black] (ecvt) at (470,1265) {Eastern Creek <1779±4\\Volcanics};
\unitbox{mgq}{438}{1297}{643}{1331}{mtguide}{}
\unitbox{mdg}{438}{1315}{490}{1331}{maydowns}{}
\node[lbl] (mgq1) at (487,1305) {Mount Guide <1773±16};
\node[lbl] (mgq2) at (497,1322) {Quartzite\ \ \ \ <1793±9};
\unitbox{btf}{490}{1331}{643}{1370}{bottle}{}
\node[lbl, text=red!40!black] (btft) at (503,1351) {Bottletree Formation\\1790±9};
\draw[wavy] (490,1372) -- (643,1372);
\node[rot, font=\smfont] (hasl) at (407,1214) {HASLINGDEN GROUP};
\node[lbl] (mdgt) at (290,1335) {May Downs\\Gneiss <1789±4};
\draw[leader] (400,1341) -- (452,1323);

% Basement and Cover Sequence 1
\unitbox{oro}{385}{1375}{425}{1412}{oroopo}{}
\node[lbl] (orot) at (307,1394) {Oroopo\\Metabasalt};
\unitbox{jay}{433}{1375}{473}{1412}{jayah}{}
\node[lbl] (jayt) at (289,1425) {Jayah Ck Metabasalt};
\draw[leader] (428,1421) -- (452,1410);
\unitbox{bto}{427}{1434}{470}{1467}{bigtoby}{}
\plusgrid{435}{1441}{4}{3}{9}{10}{red!80!black}
\node[lbl] (btot) at (338,1451) {Big Toby\\Granite 1800};
\draw[leader] (398,1443) -- (bto.west |- 0,1443);
\unitbox{yel}{379}{1475}{423}{1507}{yeldham}{}
\plusgrid{387}{1481}{4}{3}{9}{10}{red!50!black}
\node[lbl] (yelt) at (307,1503) {Yeldham\\Granite\\1820};
\draw[leader] (364,1487) -- (yel.west |- 0,1487);
\node[lbl] (yart) at (275,1593) {Yaringa\\Metamorphics};
\unitbox{yar}{305}{1609}{362}{1668}{yaringa}{}
\draw[leader] (305,1643) -- (362,1643);
\node[lbl, font=\smfont] (yar1853) at (309,1627) {1853±5\\1858±4};
\node[lbl, font=\smfont] (yar1890) at (309,1656) {1890±8};
\node[lbl] (magm) at (235,1624) {Magmatic};
\node[lbl] (metm) at (217,1684) {Metamorphic};
\draw[leader] (262,1677) -- (yar.west |- 0,1658);
\unitbox{sron}{381}{1610}{437}{1667}{sronan}{}
\node[lbl, anchor=center, align=center] (sront) at (418,1684) {Saint Ronans\\Metamorphics};
\unitbox{sul}{455}{1610}{511}{1667}{sulgray}{}
\node[lbl] (sult) at (517,1640) {Sulieman\\Gneiss};
\node[lbl] (mafic) at (658,1491) {Mafic\\enclave};
\draw[leader] (706,1500) -- (716,1512);
\unitbox{kalk}{644}{1513}{792}{1552}{kalkadoon}{}
\node[lbl, text=violet!50!black] (kalkt) at (647,1533) {Kalkadoon\\Granite};
\node[lbl, text=violet!50!black] (kalkage) at (723,1533) {1847±3\\1856±9};
\plusgrid{779}{1520}{2}{3}{6}{10}{violet!60!black}
\unitbox{lvol}{644}{1555}{822}{1602}{leichv}{}
\node[lbl, anchor=center, text=violet!50!black] (lvolt) at (733,1579) {Leichhardt Volcanics};
\node[lbl] (lvage) at (842,1577) {1852±7 (Ewen Block)\\1857±20\\1865±3\\1866±5\\1875±23};
\draw[leader] (lvol.east) -- (841,1579);
\unitbox{kurb}{644}{1610}{708}{1667}{kurbg}{}
\node[lbl] (kurbt) at (659,1640) {1860-\\1850};
\node[lbl] (kurbn) at (648,1685) {Kurbayia\\Migmatite};
\unitbox{plum}{766}{1610}{822}{1667}{sulgray}{}
\node[lbl] (plumt) at (827,1640) {Plum Mountain\\Gneiss};
\end{tikzpicture}
\end{document}
